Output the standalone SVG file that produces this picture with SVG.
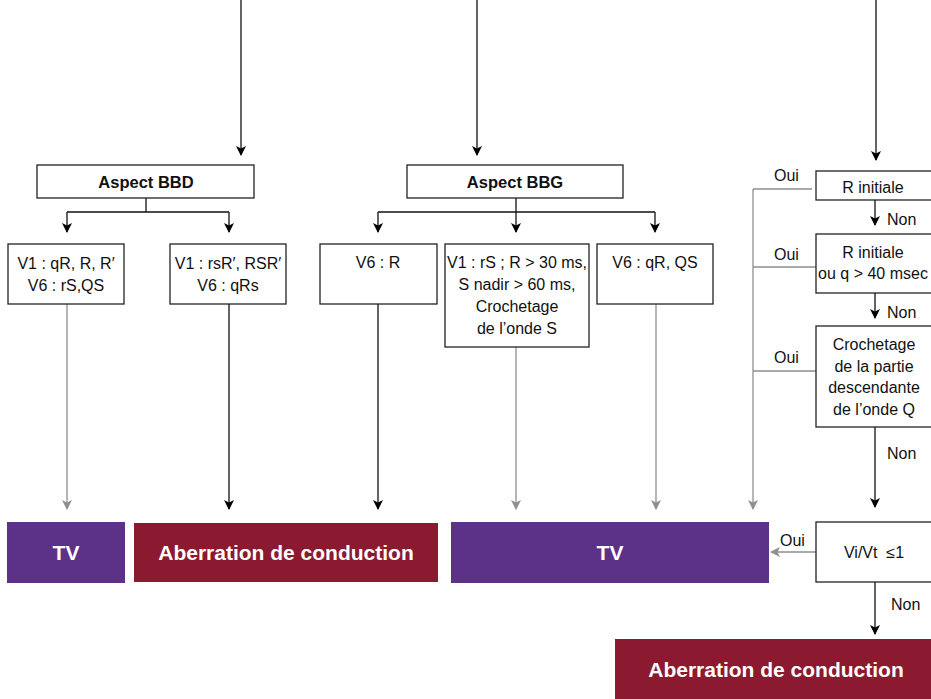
<svg xmlns="http://www.w3.org/2000/svg" width="931" height="699" viewBox="0 0 931 699">
  <defs>
    <marker id="ah" markerUnits="userSpaceOnUse" markerWidth="10" markerHeight="11" refX="9" refY="5" orient="auto">
      <path d="M0,0 L10,5 L0,10 L2.5,5 Z" fill="#000"/>
    </marker>
    <marker id="ahg" markerUnits="userSpaceOnUse" markerWidth="10" markerHeight="11" refX="9" refY="5" orient="auto">
      <path d="M0,0 L10,5 L0,10 L2.5,5 Z" fill="#8f8f8f"/>
    </marker>
    <style>
      .box { fill: #fff; stroke: #222; stroke-width: 1.3; }
      .t { font-family: "Liberation Sans", Arial, sans-serif; font-size: 16px; fill: #111; text-anchor: middle; }
      .tb { font-family: "Liberation Sans", Arial, sans-serif; font-size: 16.5px; font-weight: bold; fill: #111; text-anchor: middle; }
      .lbl { font-family: "Liberation Sans", Arial, sans-serif; font-size: 16px; fill: #111; }
      .out { font-family: "Liberation Sans", Arial, sans-serif; font-size: 21px; font-weight: bold; fill: #fff; text-anchor: middle; }
      .k { fill: none; stroke: #111; stroke-width: 1.3; }
      .g { fill: none; stroke: #8f8f8f; stroke-width: 1.3; }
      .ka { fill: none; stroke: #111; stroke-width: 1.3; marker-end: url(#ah); }
      .ga { fill: none; stroke: #8f8f8f; stroke-width: 1.3; marker-end: url(#ahg); }
      .tv { fill: #5b3287; }
      .ab { fill: #8b1a30; }
    </style>
  </defs>

  <!-- connectors -->
  <g id="connectors">
    <!-- incoming branches -->
    <path class="ka" d="M241,0 V155"/>
    <path class="ka" d="M477,0 V155"/>
    <path class="ka" d="M876,0 V160"/>

    <!-- BBD split -->
    <path class="k" d="M146,198 V212 M67,212 H229"/>
    <path class="ka" d="M67,212 V232"/>
    <path class="ka" d="M229,212 V232"/>

    <!-- BBG split -->
    <path class="k" d="M378,212 H655"/>
    <path class="ka" d="M516,198 V232"/>
    <path class="ka" d="M378,212 V232"/>
    <path class="ka" d="M655,212 V232"/>

    <!-- criteria to outcomes -->
    <path class="ga" d="M67,304 V509"/>
    <path class="ka" d="M229,304 V509"/>
    <path class="ka" d="M378,304 V509"/>
    <path class="ga" d="M516,347 V509"/>
    <path class="ga" d="M656,304 V509"/>

    <!-- right column: yes branches -->
    <path class="g" d="M812,189 H753 M753,267 H816 M753,371 H816"/>
    <path class="ga" d="M753,189 V509"/>

    <!-- right column: no branches -->
    <path class="ka" d="M875,200 V225"/>
    <path class="ka" d="M875,293 V318"/>
    <path class="ka" d="M875,427 V507"/>
    <path class="ga" d="M816,552 H771"/>
    <path class="ka" d="M875,582 V634"/>
  </g>

  <!-- edge labels -->
  <g id="edge-labels">
    <text class="lbl" x="774" y="181">Oui</text>
    <text class="lbl" x="774" y="260">Oui</text>
    <text class="lbl" x="774" y="363">Oui</text>
    <text class="lbl" x="887" y="225">Non</text>
    <text class="lbl" x="887" y="318">Non</text>
    <text class="lbl" x="887" y="459">Non</text>
    <text class="lbl" x="780" y="546">Oui</text>
    <text class="lbl" x="891" y="610">Non</text>
  </g>

  <!-- left bundle branch block -->
  <g id="aspect-bbd">
    <rect class="box" x="37" y="165" width="217" height="33"/>
    <text class="tb" x="146" y="188">Aspect BBD</text>
  </g>
  <g id="bbd-v1-qr">
    <rect class="box" x="8" y="244" width="116" height="60"/>
    <text class="t" x="66" y="269">V1 : qR, R, R′</text>
    <text class="t" x="66" y="291">V6 : rS,QS</text>
  </g>
  <g id="bbd-v1-rsr">
    <rect class="box" x="170" y="244" width="116" height="60"/>
    <text class="t" x="228" y="269">V1 : rsR′, RSR′</text>
    <text class="t" x="228" y="291">V6 : qRs</text>
  </g>

  <!-- right bundle branch block -->
  <g id="aspect-bbg">
    <rect class="box" x="407" y="165" width="216" height="33"/>
    <text class="tb" x="515" y="188">Aspect BBG</text>
  </g>
  <g id="bbg-v6-r">
    <rect class="box" x="320" y="244" width="117" height="60"/>
    <text class="t" x="378" y="268">V6 : R</text>
  </g>
  <g id="bbg-v1-rs">
    <rect class="box" x="445" y="244" width="144" height="103"/>
    <text class="t" x="517" y="268">V1 : rS ; R &gt; 30 ms,</text>
    <text class="t" x="517" y="290">S nadir &gt; 60 ms,</text>
    <text class="t" x="517" y="312">Crochetage</text>
    <text class="t" x="517" y="334">de l’onde S</text>
  </g>
  <g id="bbg-v6-qr">
    <rect class="box" x="597" y="244" width="116" height="60"/>
    <text class="t" x="655" y="268">V6 : qR, QS</text>
  </g>

  <!-- stepwise criteria column -->
  <g id="r-initiale">
    <rect class="box" x="816" y="171" width="120" height="29"/>
    <text class="t" x="873" y="193">R initiale</text>
  </g>
  <g id="r-initiale-q40">
    <rect class="box" x="816" y="234" width="120" height="59"/>
    <text class="t" x="873" y="258">R initiale</text>
    <text class="t" x="873" y="279">ou q &gt; 40 msec</text>
  </g>
  <g id="crochetage-q">
    <rect class="box" x="816" y="326" width="120" height="101"/>
    <text class="t" x="874" y="350">Crochetage</text>
    <text class="t" x="874" y="372">de la partie</text>
    <text class="t" x="874" y="393">descendante</text>
    <text class="t" x="874" y="415">de l’onde Q</text>
  </g>
  <g id="vi-vt">
    <rect class="box" x="816" y="522" width="120" height="60"/>
    <text class="t" x="874" y="558">Vi/Vt&#160;&#160;≤1</text>
  </g>

  <!-- outcomes -->
  <g id="tv-1">
    <rect class="tv" x="7" y="522" width="118" height="61"/>
    <text class="out" x="66" y="560">TV</text>
  </g>
  <g id="aberration-1">
    <rect class="ab" x="134" y="523" width="304" height="59"/>
    <text class="out" x="286" y="560">Aberration de conduction</text>
  </g>
  <g id="tv-2">
    <rect class="tv" x="451" y="522" width="318" height="61"/>
    <text class="out" x="610" y="560">TV</text>
  </g>
  <g id="aberration-2">
    <rect class="ab" x="615" y="639" width="316" height="60"/>
    <text class="out" x="776" y="677">Aberration de conduction</text>
  </g>
</svg>
